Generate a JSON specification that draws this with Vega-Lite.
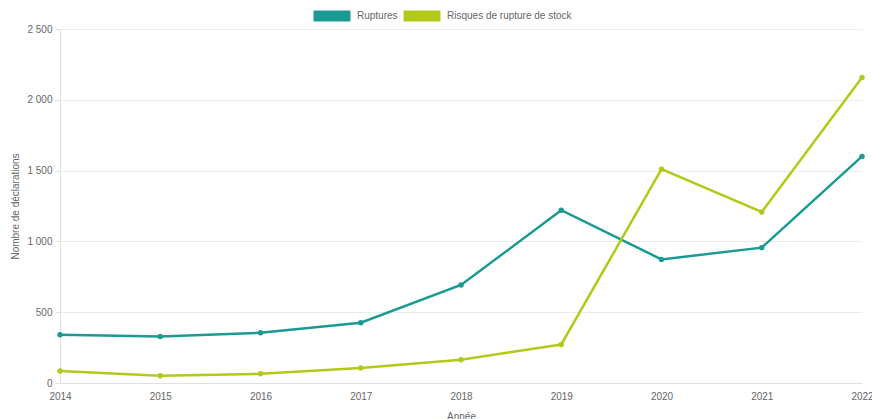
{
  "$schema": "https://vega.github.io/schema/vega-lite/v6.json",
  "width": 802,
  "height": 354,
  "autosize": {"type": "none"},
  "padding": {"left": 60, "top": 29, "right": 10, "bottom": 36},
  "background": "white",
  "config": {
    "font": "Liberation Sans",
    "view": {"stroke": null},
    "axis": {"labelColor": "#666666", "titleColor": "#666666", "labelFontSize": 10, "titleFontSize": 10, "titleFontWeight": "normal", "gridColor": "#ebebeb", "domainColor": "#e0e0e0", "tickColor": "#e0e0e0"}
  },
  "data": {
    "values": [
      {"annee": "2014", "serie": "Ruptures", "n": 340},
      {"annee": "2015", "serie": "Ruptures", "n": 328},
      {"annee": "2016", "serie": "Ruptures", "n": 355},
      {"annee": "2017", "serie": "Ruptures", "n": 426},
      {"annee": "2018", "serie": "Ruptures", "n": 692},
      {"annee": "2019", "serie": "Ruptures", "n": 1220},
      {"annee": "2020", "serie": "Ruptures", "n": 873},
      {"annee": "2021", "serie": "Ruptures", "n": 956},
      {"annee": "2022", "serie": "Ruptures", "n": 1600},
      {"annee": "2014", "serie": "Risques de rupture de stock", "n": 85},
      {"annee": "2015", "serie": "Risques de rupture de stock", "n": 52},
      {"annee": "2016", "serie": "Risques de rupture de stock", "n": 65},
      {"annee": "2017", "serie": "Risques de rupture de stock", "n": 106},
      {"annee": "2018", "serie": "Risques de rupture de stock", "n": 164},
      {"annee": "2019", "serie": "Risques de rupture de stock", "n": 272},
      {"annee": "2020", "serie": "Risques de rupture de stock", "n": 1510},
      {"annee": "2021", "serie": "Risques de rupture de stock", "n": 1208},
      {"annee": "2022", "serie": "Risques de rupture de stock", "n": 2158}
    ]
  },
  "mark": {"type": "line", "strokeWidth": 2.5, "point": {"filled": true, "size": 30}},
  "encoding": {
    "x": {
      "field": "annee", "type": "ordinal", "title": "Année",
      "scale": {"type": "point", "padding": 0},
      "axis": {"labelAngle": 0, "grid": false, "ticks": false, "labelPadding": 8, "titlePadding": 10, "domainColor": "#e0e0e0"}
    },
    "y": {
      "field": "n", "type": "quantitative", "title": "Nombre de déclarations",
      "scale": {"domain": [0, 2500]},
      "axis": {"values": [0, 500, 1000, 1500, 2000, 2500], "labelExpr": "replace(format(datum.value, ','), ',', ' ')", "tickSize": 5, "labelPadding": 3, "titlePadding": 6, "domain": true}
    },
    "color": {
      "field": "serie", "type": "nominal",
      "scale": {"domain": ["Ruptures", "Risques de rupture de stock"], "range": ["#1a9a93", "#b3c91a"]},
      "legend": {
        "title": null, "orient": "none", "direction": "horizontal", "legendX": 248, "legendY": -37,
        "symbolType": "M-1,0H1", "symbolSize": 1369, "symbolStrokeWidth": 11, "symbolOpacity": 1,
        "labelFontSize": 10, "labelColor": "#666666", "labelOffset": 1, "columnPadding": -21
      }
    }
  }
}
